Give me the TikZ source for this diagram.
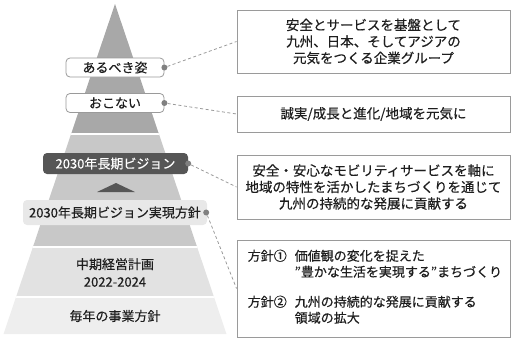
\documentclass[tikz,border=0pt]{standalone}
\usepackage{fontspec}
\setmainfont{Noto Sans CJK JP}[FakeBold=0.35]
\usetikzlibrary{positioning,calc}
\definecolor{frame}{HTML}{9A9A9A}
\definecolor{dotgray}{HTML}{808080}
\definecolor{txt}{HTML}{1E1E1E}
\definecolor{dark}{HTML}{565656}
\definecolor{lvA}{HTML}{A8A8A8}
\definecolor{lvB}{HTML}{C8C8C8}
\definecolor{lvC}{HTML}{E2E2E2}
\definecolor{lvD}{HTML}{EEEEEE}
\definecolor{plfill}{HTML}{E8E8E8}

\begin{document}
\begin{tikzpicture}[x=1pt,y=-1pt,
  lbl/.style={rounded corners=4pt,draw=frame,fill=white,line width=0.8pt,
    minimum width=98pt,minimum height=19pt,inner sep=0pt,text=txt,font=\fontsize{13}{16}\selectfont},
  msgbox/.style={draw=frame,line width=0.9pt,fill=white,minimum width=273pt,
    inner sep=0pt,align=center,text=txt,font=\fontsize{13.5}{16.5}\selectfont},
  dot/.style={circle,fill=dotgray,inner sep=0pt,minimum size=6pt},
  link/.style={draw=frame,line width=0.8pt,dash pattern=on 3pt off 2.5pt}]
  \useasboundingbox (0,0) rectangle (513,346);
  % pyramid, four layers
  \begin{scope}
    \clip (115,4) -- (226.5,334) -- (3.5,334) -- cycle;
    \fill[lvA] (0,0) rectangle (240,134);
    \fill[lvB] (0,134) rectangle (240,247);
    \fill[lvC] (0,247) rectangle (240,297);
    \fill[lvD] (0,297) rectangle (240,340);
    \foreach \y in {134,247,297} \draw[white,line width=2pt] (0,\y) -- (240,\y);
  \end{scope}
  \fill[dark] (97,192) -- (116,183) -- (135,192) -- cycle;

  % labels on the pyramid
  \node[lbl] (ideal) at (115,67.5) {あるべき姿};
  \node[lbl] (conduct) at (115,103) {おこない};
  \node[rounded corners=4pt,fill=dark,text=white,minimum width=145pt,minimum height=21pt,
    inner sep=0pt,font=\fontsize{13}{16}\selectfont] (vision) at (115.5,163.5) {2030年長期ビジョン};
  \node[rounded corners=4pt,fill=plfill,text=txt,minimum width=184pt,minimum height=25pt,
    inner sep=0pt,font=\fontsize{13}{16}\selectfont] (policy) at (115,212.5) {2030年長期ビジョン実現方針};
  \node[text=txt,align=center,font=\fontsize{13}{17.5}\selectfont] (midplan) at (115,272.5) {中期経営計画\\2022-2024};
  \node[text=txt,font=\fontsize{13}{16}\selectfont] (yearly) at (115,316) {毎年の事業方針};

  % explanation boxes
  \node[msgbox,minimum height=63pt] (boxA) at (373.5,41.5)
    {安全とサービスを基盤として\\九州、日本、そしてアジアの\\元気をつくる企業グループ};
  \node[msgbox,minimum height=36pt] (boxB) at (373.5,114) {誠実/成長と進化/地域を元気に};
  \node[msgbox,minimum height=64pt] (boxC) at (373.5,187)
    {安全・安心なモビリティサービスを軸に\\地域の特性を活かしたまちづくりを通じて\\九州の持続的な発展に貢献する};
  \node[msgbox,minimum height=97pt] (boxD) at (373.5,288.5) {};
  \node[anchor=west,inner sep=0pt,text=txt,font=\fontsize{13}{16}\selectfont] (boxDtext)
    at ($(boxD.west)+(11,0)$)
    {\begin{tabular}{@{}l@{\hspace{8pt}}l@{}}
      方針① & 価値観の変化を捉えた\\
            & "豊かな生活を実現する"まちづくり\\[14pt]
      方針② & 九州の持続的な発展に貢献する\\
            & 領域の拡大
    \end{tabular}};

  % dots and dashed links
  \node[dot] (dA) at (ideal.east) {};
  \node[dot] (dB) at (conduct.east) {};
  \node[dot] (dC) at (vision.east) {};
  \node[dot] (dD) at ($(policy.east)+(-1,0)$) {};
  \draw[link] (dA) -- (boxA.west);
  \draw[link] (dB) -- (boxB.west);
  \draw[link] (dC) -- (boxC.west);
  \draw[link] (dD) -- (boxD.west);
\end{tikzpicture}
\end{document}
